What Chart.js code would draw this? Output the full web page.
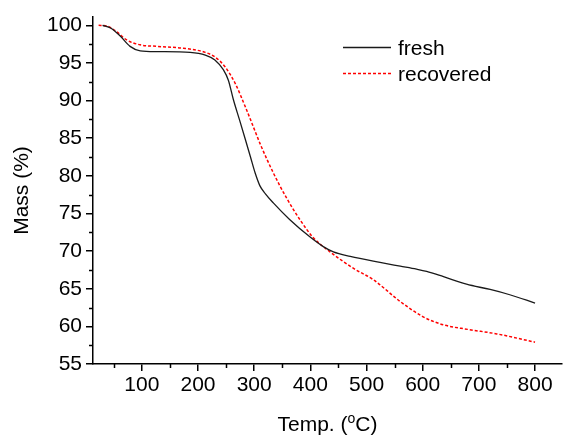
<!DOCTYPE html>
<html>
<head>
<meta charset="utf-8">
<script src="https://cdn.jsdelivr.net/npm/chart.js"></script>
<style>
  html, body { margin: 0; padding: 0; background: #fff; }
  #wrap { width: 563px; height: 439px; }
</style>
</head>
<body>
<div id="wrap"><canvas id="myChart" width="563" height="439"></canvas></div>
<script>
// TGA curves
var freshTemp = [30, 45, 61, 79, 97, 127, 186, 213, 230, 245, 254, 263, 274, 284, 293, 302, 310, 320, 334, 363, 399, 423, 441, 471, 524, 560, 589, 607, 637, 678, 720, 755, 800];
var freshMass = [100.0, 99.6, 98.6, 97.2, 96.6, 96.5, 96.4, 96.05, 95.4, 94.1, 92.7, 90.1, 87.4, 84.9, 82.6, 80.3, 78.7, 77.6, 76.4, 74.2, 71.9, 70.6, 69.9, 69.3, 68.5, 68.0, 67.6, 67.3, 66.6, 65.6, 64.9, 64.2, 63.1];

var recTemp = [23, 38, 55, 73, 97, 127, 174, 213, 230, 248, 266, 284, 298, 312, 334, 358, 383, 405, 435, 477, 512, 560, 600, 637, 680, 732, 800];
var recMass = [100.0, 99.9, 99.15, 98.05, 97.4, 97.2, 96.95, 96.4, 95.8, 94.5, 92.3, 89.2, 86.6, 84.0, 80.4, 77.0, 74.0, 71.8, 69.9, 67.7, 66.2, 63.3, 61.3, 60.2, 59.6, 59.0, 57.9];

var xTicks = [100, 200, 300, 400, 500, 600, 700, 800];
var xMinor = [50, 150, 250, 350, 450, 550, 650, 750];
var yTicks = [55, 60, 65, 70, 75, 80, 85, 90, 95, 100];
var yMinor = [57.5, 62.5, 67.5, 72.5, 77.5, 82.5, 87.5, 92.5, 97.5];

var seriesNames = ["fresh", "recovered"];

var FONT = "'Liberation Sans', Arial, sans-serif";

function toPoints(xs, ys) {
    return xs.map(function (x, i) { return { x: x, y: ys[i] }; });
}

// minor ticks, axis titles and the legend box
var extras = {
    id: 'extras',
    afterDraw: function (chart) {
        var c = chart.ctx;
        var xs = chart.scales.x, ys = chart.scales.y;
        var area = chart.chartArea;
        c.save();
        c.strokeStyle = '#000';
        c.lineWidth = 1.5;
        c.beginPath();
        xMinor.forEach(function (v) {
            var px = Math.round(xs.getPixelForValue(v)) + 0.5;
            c.moveTo(px, area.bottom);
            c.lineTo(px, area.bottom + 4);
        });
        yMinor.forEach(function (v) {
            var py = Math.round(ys.getPixelForValue(v)) + 0.5;
            c.moveTo(area.left, py);
            c.lineTo(area.left - 4, py);
        });
        c.stroke();

        c.fillStyle = '#000';
        c.font = '21px ' + FONT;
        c.textBaseline = 'alphabetic';

        // x title with raised o
        var a = 'Temp. (', b = 'o', d = 'C)';
        var wa = c.measureText(a).width, wd = c.measureText(d).width;
        c.font = '14px ' + FONT;
        var wb = c.measureText(b).width;
        var total = wa + wb + wd;
        var cx = (area.left + area.right) / 2;
        var x0 = cx - total / 2, base = 431;
        c.font = '21px ' + FONT;
        c.fillText(a, x0, base);
        c.font = '14px ' + FONT;
        c.fillText(b, x0 + wa, base - 8);
        c.font = '21px ' + FONT;
        c.fillText(d, x0 + wa + wb, base);

        // y title
        c.save();
        c.translate(28, (area.top + area.bottom) / 2);
        c.rotate(-Math.PI / 2);
        c.textAlign = 'center';
        c.fillText('Mass (%)', 0, 0);
        c.restore();

        // legend
        var rows = [47, 73];
        chart.data.datasets.forEach(function (ds, i) {
            c.save();
            c.strokeStyle = ds.borderColor;
            c.lineWidth = ds.borderWidth;
            c.setLineDash(ds.borderDash || []);
            c.beginPath();
            c.moveTo(343, rows[i] + 0.5);
            c.lineTo(391, rows[i] + 0.5);
            c.stroke();
            c.restore();
            c.fillText(seriesNames[i], 398, rows[i] + 8);
        });
        c.restore();
    }
};

var ctx = document.getElementById('myChart');
var myChart = new Chart(ctx, {
    type: 'line',
    data: {
        datasets: [{
            label: seriesNames[0],
            data: toPoints(freshTemp, freshMass),
            borderColor: '#1a1a1a',
            borderWidth: 1.3,
            pointRadius: 0,
            cubicInterpolationMode: 'monotone',
            fill: false
        }, {
            label: seriesNames[1],
            data: toPoints(recTemp, recMass),
            borderColor: '#ff0000',
            borderWidth: 1.5,
            borderDash: [3, 2],
            pointRadius: 0,
            cubicInterpolationMode: 'monotone',
            fill: false
        }]
    },
    options: {
        responsive: false,
        animation: false,
        devicePixelRatio: 1,
        layout: { padding: { top: 17, right: 1, left: 0, bottom: 0 } },
        plugins: {
            legend: { display: false },
            tooltip: { enabled: false }
        },
        scales: {
            x: {
                type: 'linear',
                min: 13,
                max: 848,
                afterBuildTicks: function (scale) {
                    scale.ticks = xTicks.map(function (v) { return { value: v }; });
                },
                afterFit: function (scale) { scale.height = 75; },
                grid: { drawOnChartArea: false, drawTicks: true, tickLength: 7, color: '#000', lineWidth: 1.5 },
                border: { display: true, color: '#000', width: 1.5 },
                ticks: { color: '#000', font: { size: 21, family: FONT }, padding: 2, maxRotation: 0, autoSkip: false }
            },
            y: {
                min: 55,
                max: 101.1,
                afterBuildTicks: function (scale) {
                    scale.ticks = yTicks.map(function (v) { return { value: v }; });
                },
                afterFit: function (scale) { scale.width = 93; },
                grid: { drawOnChartArea: false, drawTicks: true, tickLength: 7, color: '#000', lineWidth: 1.5 },
                border: { display: true, color: '#000', width: 1.5 },
                ticks: { color: '#000', font: { size: 21, family: FONT }, padding: 4, autoSkip: false }
            }
        }
    },
    plugins: [extras]
});
</script>
</body>
</html>
